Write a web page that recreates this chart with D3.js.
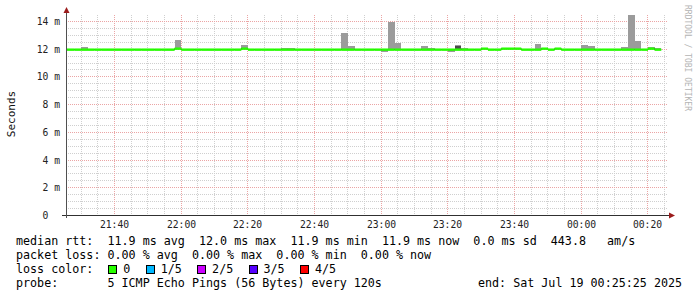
<!DOCTYPE html>
<html>
<head>
<meta charset="utf-8">
<script src="https://cdn.jsdelivr.net/npm/d3@7"></script>
<style>
body { margin: 0; background: #fff; }
svg { display: block; }
text { font-family: "DejaVu Sans Mono", monospace; white-space: pre; }
</style>
</head>
<body>
<svg width="697" height="297"></svg>
<script>
// time window of the graph and of the rrd steps
const timeStart = new Date(2025, 6, 18, 21, 25, 25);
const timeEnd = new Date(2025, 6, 19, 0, 25, 25);
const stepStart = new Date(2025, 6, 18, 21, 24, 0);
const stepSeconds = 120;

// y axis (milliseconds)
const yMax = 14.43;
const yTicks = [0, 2, 4, 6, 8, 10, 12, 14];
const yTickLabels = ["0  ", "2 m", "4 m", "6 m", "8 m", "10 m", "12 m", "14 m"];

// median rtt per 2 minute step, ms
const median = [
    11.93, 11.93, 11.93, 11.93, 11.93, 11.93, 11.93, 11.93, 11.93, 11.93,
    11.93, 11.93, 11.93, 11.93, 11.93, 11.93, 11.93, 12.0, 11.93, 11.93,
    11.93, 11.93, 11.93, 11.93, 11.93, 11.93, 11.93, 12.0, 11.93, 11.93,
    11.93, 11.93, 11.93, 11.93, 11.93, 11.93, 11.93, 11.93, 11.93, 11.93,
    11.93, 11.93, 11.93, 11.93, 11.93, 11.93, 11.93, 11.93, 11.93, 11.93,
    11.93, 11.93, 11.93, 11.93, 11.93, 11.93, 11.93, 11.93, 11.93, 11.93,
    11.93, 11.93, 11.93, 12.0, 11.93, 11.93, 12.0, 12.0, 12.0, 11.93,
    11.93, 11.93, 12.0, 11.93, 12.0, 11.93, 11.93, 11.93, 11.93, 11.93,
    11.93, 11.93, 11.93, 11.93, 11.93, 11.93, 11.93, 11.93, 12.0, 11.93
];
// highest ping per step (outer smoke top), ms
const pingMax = [
    11.93, 11.93, 11.93, 12.12, 11.93, 11.93, 11.93, 11.93, 11.93, 11.93,
    11.93, 11.93, 11.93, 11.93, 11.93, 11.93, 11.93, 12.65, 11.93, 11.93,
    11.93, 11.93, 11.93, 11.93, 11.93, 11.93, 11.93, 12.27, 11.93, 11.93,
    11.93, 11.93, 11.93, 12.05, 12.05, 11.93, 11.93, 11.93, 11.93, 11.93,
    11.93, 11.93, 13.15, 12.19, 11.93, 11.93, 11.93, 11.93, 11.93, 13.92,
    12.43, 11.93, 11.93, 11.93, 12.19, 12.07, 11.93, 11.93, 11.93, 12.27,
    12.07, 11.93, 11.93, 12.0, 11.93, 11.93, 12.0, 12.0, 12.0, 11.93,
    11.93, 12.34, 12.0, 11.93, 12.0, 11.93, 11.93, 11.93, 12.27, 12.19,
    11.93, 11.93, 11.93, 11.93, 12.12, 14.45, 12.56, 11.93, 12.12, 12.05
];
// lowest ping per step (outer smoke bottom), ms
const pingMin = [
    11.93, 11.93, 11.93, 11.93, 11.93, 11.93, 11.93, 11.93, 11.93, 11.93,
    11.93, 11.93, 11.93, 11.93, 11.93, 11.93, 11.93, 12.0, 11.93, 11.93,
    11.93, 11.93, 11.93, 11.93, 11.93, 11.93, 11.93, 12.0, 11.93, 11.93,
    11.93, 11.93, 11.93, 11.93, 11.93, 11.93, 11.93, 11.93, 11.93, 11.93,
    11.93, 11.93, 11.93, 11.93, 11.93, 11.93, 11.93, 11.93, 11.77, 11.93,
    11.93, 11.93, 11.93, 11.93, 11.93, 11.93, 11.93, 11.93, 11.77, 11.93,
    11.93, 11.93, 11.93, 12.0, 11.93, 11.93, 12.0, 12.0, 12.0, 11.93,
    11.93, 11.93, 12.0, 11.93, 12.0, 11.93, 11.93, 11.93, 11.93, 11.93,
    11.93, 11.93, 11.93, 11.93, 11.93, 11.93, 11.93, 11.93, 12.0, 11.93
];
// inner smoke (2nd..4th ping) where it is visible
const innerSteps = [59];
const innerLo = [11.98];
const innerHi = [12.2];

// legend
const legendRtt = "median rtt:  11.9 ms avg  12.0 ms max  11.9 ms min  11.9 ms now  0.0 ms sd  443.8   am/s";
const legendLoss = "packet loss: 0.00 % avg  0.00 % max  0.00 % min  0.00 % now";
const lossLabels = ["0", "1/5", "2/5", "3/5", "4/5"];
const lossColors = ["#26ff00", "#00b8ff", "#cc00ff", "#5500ff", "#ff0000"];
const legendProbe = "probe:       5 ICMP Echo Pings (56 Bytes) every 120s";
const legendEnd = "end: Sat Jul 19 00:25:25 2025";

const area = { left: 66, right: 666, top: 15, bottom: 215 };

function stepTime(k) {
    return new Date(stepStart.getTime() + k * stepSeconds * 1000);
}

function drawGraph() {
    const svg = d3.select("svg");
    svg.append("rect").attr("width", 697).attr("height", 297).attr("fill", "#fff");

    const scX = d3.scaleTime().domain([timeStart, timeEnd]).range([area.left, area.right]);
    const scY = d3.scaleLinear().domain([0, yMax]).range([area.bottom, area.top]);

    svg.append("clipPath").attr("id", "plot")
        .append("rect")
        .attr("x", area.left).attr("y", area.top)
        .attr("width", area.right - area.left).attr("height", area.bottom - area.top);

    drawGrid(svg, scX, scY);
    drawSmoke(svg, scX, scY);
    drawMedian(svg, scX, scY);
    drawAxes(svg, scX, scY);
    drawLegend(svg);
}

// dotted grid: grey minor lines, red major lines
function drawGrid(svg, scX, scY) {
    const g = svg.append("g").attr("stroke-dasharray", "1,1").attr("stroke-width", 1);

    const minorY = d3.range(0.5, yMax, 0.5).filter(v => v % 2 !== 0);
    g.selectAll(".minY").data(minorY).enter().append("line")
        .attr("x1", area.left).attr("x2", area.right + 2)
        .attr("y1", d => Math.round(scY(d)) + 0.5).attr("y2", d => Math.round(scY(d)) + 0.5)
        .attr("stroke", "#cfcfcf");

    const minorX = d3.timeMinute.every(5).range(timeStart, timeEnd)
        .filter(d => d.getMinutes() % 20 !== 0);
    g.selectAll(".minX").data(minorX).enter().append("line")
        .attr("x1", d => Math.floor(scX(d)) + 0.5).attr("x2", d => Math.floor(scX(d)) + 0.5)
        .attr("y1", area.top).attr("y2", area.bottom)
        .attr("stroke", "#cfcfcf");

    g.selectAll(".majY").data(yTicks.filter(v => v > 0)).enter().append("line")
        .attr("x1", area.left).attr("x2", area.right + 2)
        .attr("y1", d => Math.round(scY(d)) + 0.5).attr("y2", d => Math.round(scY(d)) + 0.5)
        .attr("stroke", "#eba5a5");

    const majorX = d3.timeMinute.every(20).range(timeStart, timeEnd);
    g.selectAll(".majX").data(majorX).enter().append("line")
        .attr("x1", d => Math.floor(scX(d)) + 0.5).attr("x2", d => Math.floor(scX(d)) + 0.5)
        .attr("y1", area.top).attr("y2", area.bottom)
        .attr("stroke", "#eba5a5");
}

// gray smoke bars per step
function drawSmoke(svg, scX, scY) {
    const g = svg.append("g").attr("clip-path", "url(#plot)");
    g.selectAll(".smoke").data(median).enter().append("rect")
        .attr("x", (d, k) => scX(stepTime(k)))
        .attr("width", (d, k) => scX(stepTime(k + 1)) - scX(stepTime(k)))
        .attr("y", (d, k) => scY(pingMax[k]))
        .attr("height", (d, k) => scY(pingMin[k]) - scY(pingMax[k]))
        .attr("fill", "#9b9b9b")
        .attr("shape-rendering", "crispEdges");

    g.selectAll(".inner").data(innerSteps).enter().append("rect")
        .attr("x", k => scX(stepTime(k)))
        .attr("width", k => scX(stepTime(k + 1)) - scX(stepTime(k)))
        .attr("y", (k, i) => scY(innerHi[i]))
        .attr("height", (k, i) => scY(innerLo[i]) - scY(innerHi[i]))
        .attr("fill", "#4a4a4a")
        .attr("shape-rendering", "crispEdges");
}

// median: thin dark step line with the loss colour band on top
function drawMedian(svg, scX, scY) {
    const g = svg.append("g").attr("clip-path", "url(#plot)");
    const pts = median.map((v, k) => [scX(stepTime(k)), scY(v)]);
    pts.push([scX(stepTime(median.length)), scY(median[median.length - 1])]);

    const line = d3.line().curve(d3.curveStepAfter);
    g.append("path")
        .attr("d", line(pts))
        .attr("fill", "none")
        .attr("stroke", "#202020")
        .attr("stroke-width", 1);

    g.selectAll(".band").data(median).enter().append("rect")
        .attr("x", (d, k) => scX(stepTime(k)))
        .attr("width", (d, k) => scX(stepTime(k + 1)) - scX(stepTime(k)))
        .attr("y", d => scY(d) - 1.2)
        .attr("height", 2.4)
        .attr("fill", lossColors[0]);
}

function drawAxes(svg, scX, scY) {
    // axis lines
    svg.append("line")
        .attr("x1", area.left - 4).attr("x2", area.right + 4)
        .attr("y1", area.bottom + 0.5).attr("y2", area.bottom + 0.5)
        .attr("stroke", "#303030");
    svg.append("line")
        .attr("x1", area.left + 0.5).attr("x2", area.left + 0.5)
        .attr("y1", area.bottom + 3).attr("y2", area.top - 5)
        .attr("stroke", "#505050");

    // arrows
    svg.append("path")
        .attr("d", `M${area.left - 2.5},${area.top - 2} L${area.left + 3.5},${area.top - 2} L${area.left + 0.5},${area.top - 8} Z`)
        .attr("fill", "#9b1c1c");
    svg.append("path")
        .attr("d", `M${area.right + 3},${area.bottom - 2.5} L${area.right + 3},${area.bottom + 3.5} L${area.right + 9},${area.bottom + 0.5} Z`)
        .attr("fill", "#9b1c1c");

    // tick labels
    const majorX = d3.timeMinute.every(20).range(timeStart, timeEnd);
    svg.selectAll(".xlab").data(majorX).enter().append("text")
        .attr("x", d => Math.floor(scX(d)) + 0.5)
        .attr("y", 228)
        .attr("text-anchor", "middle")
        .attr("font-size", "9.7px")
        .attr("fill", "#222")
        .text(d3.timeFormat("%H:%M"));

    svg.selectAll(".ylab").data(yTicks).enter().append("text")
        .attr("x", 60)
        .attr("y", d => Math.round(scY(d)) + 4)
        .attr("text-anchor", "end")
        .attr("font-size", "9.7px")
        .attr("fill", "#222")
        .text((d, i) => yTickLabels[i]);

    svg.append("text")
        .attr("transform", "translate(15, 114) rotate(-90)")
        .attr("text-anchor", "middle")
        .attr("font-size", "11px")
        .attr("fill", "#111")
        .text("Seconds");

    svg.append("text")
        .attr("transform", "translate(685, 5) rotate(90)")
        .attr("font-size", "8px")
        .attr("fill", "#b4b4b4")
        .text("RRDTOOL / TOBI OETIKER");
}

function drawLegend(svg) {
    const fs = "11.7px";
    const charW = 7.05;
    const x0 = 16;
    svg.append("text").attr("x", x0).attr("y", 245).attr("font-size", fs).text(legendRtt);
    svg.append("text").attr("x", x0).attr("y", 259).attr("font-size", fs).text(legendLoss);
    svg.append("text").attr("x", x0).attr("y", 273).attr("font-size", fs).text("loss color:");
    svg.append("text").attr("x", x0).attr("y", 287).attr("font-size", fs).text(legendProbe);
    svg.append("text").attr("x", 478).attr("y", 287).attr("font-size", fs).text(legendEnd);

    // loss colour boxes
    let bx = 108.3;
    lossLabels.forEach((lab, i) => {
        svg.append("rect")
            .attr("x", Math.round(bx) + 0.5).attr("y", 265.5)
            .attr("width", 8).attr("height", 8)
            .attr("fill", lossColors[i])
            .attr("stroke", "#000");
        svg.append("text").attr("x", bx + 15).attr("y", 273).attr("font-size", fs).text(lab);
        bx += 15 + lab.length * charW + 15.3;
    });
}

drawGraph();
</script>
</body>
</html>
